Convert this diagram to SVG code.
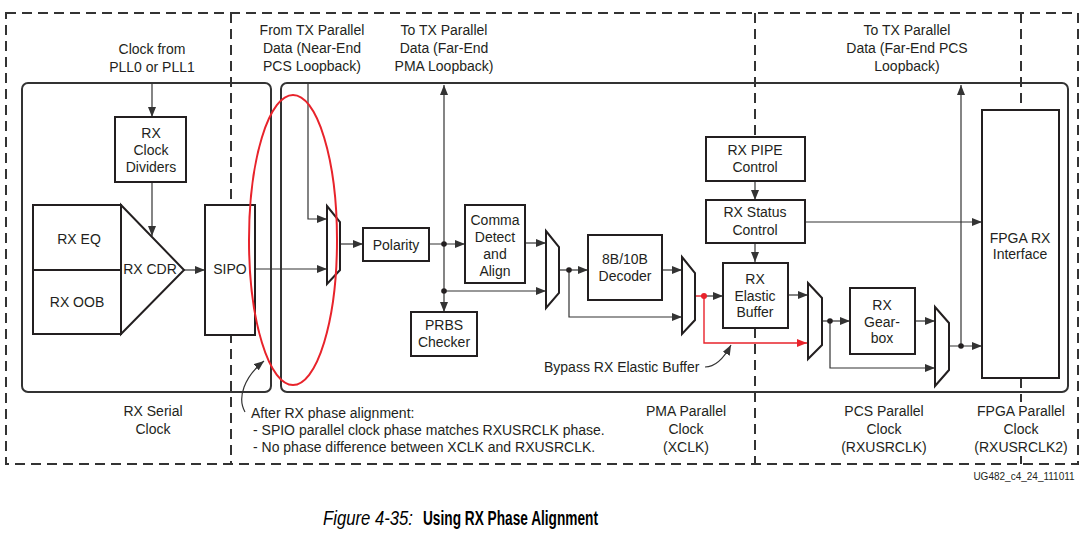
<svg xmlns="http://www.w3.org/2000/svg" width="1089" height="540" viewBox="0 0 1089 540">
<defs>
<style>
text{font-family:"Liberation Sans",Arial,sans-serif;font-size:14px;fill:#231f20;text-anchor:middle}
.box{fill:#fff;stroke:#231f20;stroke-width:2}
.frame{fill:none;stroke:#333;stroke-width:2}
.dash{fill:none;stroke:#333;stroke-width:2;stroke-dasharray:10 6}
.wire{fill:none;stroke:#333;stroke-width:1.2}
.arr{marker-end:url(#ah)}
.red{fill:none;stroke:#e8232b;stroke-width:1.4}
.dot{fill:#231f20}
.l{text-anchor:start}
</style>
<marker id="ah" viewBox="0 0 10 8" refX="10" refY="4" markerWidth="10" markerHeight="8" markerUnits="userSpaceOnUse" orient="auto"><path d="M0,0 L10,4 L0,8 Z" fill="#333"/></marker>
<marker id="ahr" viewBox="0 0 10 8" refX="10" refY="4" markerWidth="10" markerHeight="8" markerUnits="userSpaceOnUse" orient="auto"><path d="M0,0 L10,4 L0,8 Z" fill="#e8232b"/></marker>
</defs>
<rect width="1089" height="540" fill="#fff"/>

<g id="clock-domains">
<rect class="dash" x="6" y="13" width="1072" height="451"/>
<path class="dash" d="M231,13 V464"/>
<path class="dash" d="M755,13 V137 M755,328 V464"/>
<path class="dash" d="M1021,13 V110 M1021,378 V402 M1021,456 V464"/>
<rect class="frame" x="22" y="83" width="249" height="309" rx="6"/>
<rect class="frame" x="281" y="83" width="787" height="309" rx="6"/>
</g>

<g id="labels">
<text x="152" y="54">Clock from</text>
<text x="152" y="72">PLL0 or PLL1</text>
<text x="312" y="35">From TX Parallel</text>
<text x="312" y="53">Data (Near-End</text>
<text x="312" y="71">PCS Loopback)</text>
<text x="444" y="35">To TX Parallel</text>
<text x="444" y="53">Data (Far-End</text>
<text x="444" y="71">PMA Loopback)</text>
<text x="907" y="35">To TX Parallel</text>
<text x="907" y="53">Data (Far-End PCS</text>
<text x="907" y="71">Loopback)</text>
<text x="153" y="416">RX Serial</text>
<text x="153" y="434">Clock</text>
<text x="686" y="416">PMA Parallel</text>
<text x="686" y="434">Clock</text>
<text x="686" y="452">(XCLK)</text>
<text x="884" y="416">PCS Parallel</text>
<text x="884" y="434">Clock</text>
<text x="884" y="452">(RXUSRCLK)</text>
<text x="1021" y="416">FPGA Parallel</text>
<text x="1021" y="434">Clock</text>
<text x="1021" y="452">(RXUSRCLK2)</text>
<text class="l" x="251" y="418">After RX phase alignment:</text>
<text class="l" x="253" y="435">- SPIO parallel clock phase matches RXUSRCLK phase.</text>
<text class="l" x="253" y="452">- No phase difference between XCLK and RXUSRCLK.</text>
<text class="l" x="544" y="372">Bypass RX Elastic Buffer</text>
<text x="1024" y="480" style="font-size:10px">UG482_c4_24_111011</text>
<text class="l" x="323" y="525" style="font-size:19.5px;font-style:italic;fill:#000" textLength="90" lengthAdjust="spacingAndGlyphs">Figure 4-35:</text>
<text class="l" x="423" y="525" style="font-size:19.5px;font-weight:bold;fill:#000" textLength="175" lengthAdjust="spacingAndGlyphs">Using RX Phase Alignment</text>
</g>

<g id="connectors">
<path class="wire arr" d="M152,83 V117"/>
<path class="wire arr" d="M152,182 V236"/>
<path class="wire arr" d="M184,270 H205"/>
<path class="wire arr" d="M255,269 H327"/>
<path class="wire arr" d="M308,83 V219 H327"/>
<path class="wire arr" d="M340,244 H363"/>
<path class="wire arr" d="M429,244 H465"/>
<path class="wire arr" d="M444,244 V85"/>
<path class="wire arr" d="M444,244 V312"/>
<path class="wire arr" d="M444,291 H546"/>
<path class="wire arr" d="M525,243 H546"/>
<path class="wire arr" d="M559,270 H588"/>
<path class="wire arr" d="M569,270 V317 H682"/>
<path class="wire arr" d="M662,270 H682"/>
<path class="red" d="M695,296 H704"/>
<path class="wire arr" d="M704,296 H723"/>
<path class="red" d="M704,296 V343 H807" marker-end="url(#ahr)"/>
<path class="wire arr" d="M755,181 V200"/>
<path class="wire arr" d="M755,243 V262"/>
<path class="wire arr" d="M805,222 H982"/>
<path class="wire arr" d="M788,295 H808"/>
<path class="wire arr" d="M822,321 H850"/>
<path class="wire arr" d="M830,321 V368 H935"/>
<path class="wire arr" d="M915,321 H935"/>
<path class="wire arr" d="M949,346 H982"/>
<path class="wire arr" d="M961,346 V85"/>
<path class="wire arr" d="M245,412 C237,398 244,377 264,361"/>
<path class="wire arr" d="M705,367 C716,367 724,358 731,345"/>
<circle class="dot" cx="444" cy="244" r="2.8"/>
<circle class="dot" cx="444" cy="291" r="2.8"/>
<circle class="dot" cx="569" cy="270" r="2.8"/>
<circle cx="704" cy="296" r="3" fill="#e8232b"/>
<circle class="dot" cx="830" cy="321" r="2.8"/>
<circle class="dot" cx="961" cy="346" r="2.8"/>
</g>

<g id="rx-clock-dividers"><rect class="box" x="115" y="117" width="71" height="65"/><text x="151" y="138">RX</text><text x="151" y="155">Clock</text><text x="151" y="172">Dividers</text></g>
<g id="rx-eq"><rect class="box" x="33" y="205" width="88" height="65"/><text x="79" y="244">RX EQ</text></g>
<g id="rx-oob"><rect class="box" x="33" y="270" width="88" height="64"/><text x="77" y="307">RX OOB</text></g>
<g id="rx-cdr"><path class="box" d="M121,205 L184,270 L121,334 Z" style="fill:none"/><text x="150" y="274">RX CDR</text></g>
<g id="sipo"><rect class="box" x="205" y="205" width="50" height="130"/><text x="230" y="274">SIPO</text></g>
<g id="mux1"><path class="box" d="M327,206 L340,222 L340,270 L327,284 Z"/></g>
<g id="polarity"><rect class="box" x="363" y="228" width="66" height="33"/><text x="396" y="250">Polarity</text></g>
<g id="comma-detect"><rect class="box" x="465" y="205" width="60" height="78"/><text x="495" y="225">Comma</text><text x="495" y="242">Detect</text><text x="495" y="259">and</text><text x="495" y="276">Align</text></g>
<g id="prbs-checker"><rect class="box" x="411" y="312" width="66" height="44"/><text x="444" y="330">PRBS</text><text x="444" y="347">Checker</text></g>
<g id="mux2"><path class="box" d="M546,231 L559,247 L559,293 L546,308 Z"/></g>
<g id="decoder"><rect class="box" x="588" y="235" width="74" height="65"/><text x="625" y="264">8B/10B</text><text x="625" y="281">Decoder</text></g>
<g id="mux3"><path class="box" d="M682,257 L695,273 L695,320 L682,334 Z"/></g>
<g id="rx-pipe-control"><rect class="box" x="706" y="137" width="99" height="44"/><text x="755" y="155">RX PIPE</text><text x="755" y="172">Control</text></g>
<g id="rx-status-control"><rect class="box" x="706" y="200" width="99" height="43"/><text x="755" y="217">RX Status</text><text x="755" y="235">Control</text></g>
<g id="rx-elastic-buffer"><rect class="box" x="723" y="263" width="65" height="65"/><text x="755" y="284">RX</text><text x="755" y="301">Elastic</text><text x="755" y="317">Buffer</text></g>
<g id="mux4"><path class="box" d="M808,283 L822,298 L822,345 L808,359 Z"/></g>
<g id="rx-gearbox"><rect class="box" x="850" y="288" width="65" height="66"/><text x="882" y="310">RX</text><text x="882" y="327">Gear-</text><text x="882" y="343">box</text></g>
<g id="mux5"><path class="box" d="M935,307 L949,323 L949,370 L935,386 Z"/></g>
<g id="fpga-rx-interface"><rect class="box" x="982" y="110" width="77" height="268"/><text x="1020" y="243">FPGA RX</text><text x="1020" y="259">Interface</text></g>

<g id="highlight"><ellipse cx="293" cy="240" rx="44" ry="145" fill="none" stroke="#e8232b" stroke-width="2"/></g>
</svg>
